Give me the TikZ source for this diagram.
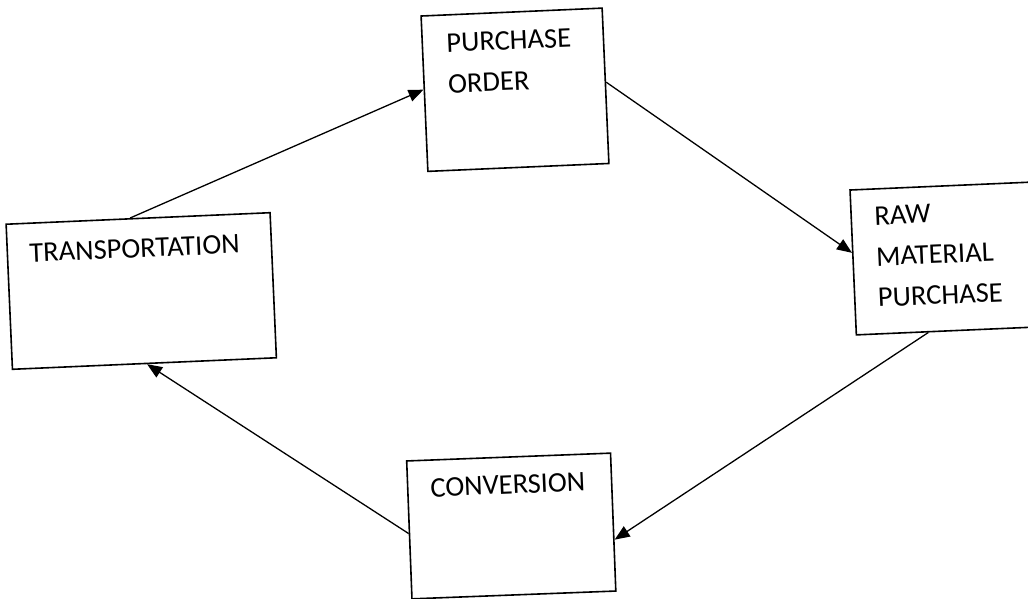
\documentclass[tikz,border=0pt]{standalone}
\usepackage{fontspec}
\setmainfont{Carlito}
\usetikzlibrary{arrows.meta,calc}
\begin{document}
\begin{tikzpicture}[x=1pt,y=-1pt,
  box/.style={draw=black,line width=1.6pt,fill=white,rectangle,inner sep=0pt},
  lbl/.style={anchor=north west,inner sep=0pt,align=left,rotate=2.5,
    font=\fontsize{28.5}{41}\selectfont},
  conn/.style={line width=1.3pt,-{Triangle[length=15pt,width=12pt]}}]
\useasboundingbox[fill=white] (0,0) rectangle (1028,599);
% boxes
\node[box,minimum width=181.2pt,minimum height=155.5pt,rotate=2.5] (po) at (515,89.75) {};
\node[box,minimum width=195pt,minimum height=145pt,rotate=2.5] (rm) at (950.6,258.2) {};
\node[box,minimum width=264.2pt,minimum height=145.2pt,rotate=2.5] (tr) at (141.25,291) {};
\node[box,minimum width=204pt,minimum height=138pt,rotate=2.2] (cv) at (511.25,526) {};
% texts
\node[lbl] (tpo) at (445.8,33.6) {PURCHASE\\ORDER};
\node[lbl] (trm) at (873.8,206.6) {RAW\\MATERIAL\\PURCHASE};
\node[lbl] (ttr) at (28.8,243.6) {TRANSPORTATION};
\node[lbl] (tcv) at (429.8,478.6) {CONVERSION};
% connectors
\draw[conn] ($(tr.north west)!0.47!(tr.north east)$) -- ($(po.north west)!0.474!(po.south west)$);
\draw[conn] ($(po.north east)!0.477!(po.south east)$) -- ($(rm.north west)!0.434!(rm.south west)$);
\draw[conn] ($(rm.south west)!0.37!(rm.south east)$) -- ($(cv.north east)!0.626!(cv.south east)$);
\draw[conn] ($(cv.north west)!0.526!(cv.south west)$) -- ($(tr.south west)!0.51!(tr.south east)$);
\end{tikzpicture}
\end{document}
